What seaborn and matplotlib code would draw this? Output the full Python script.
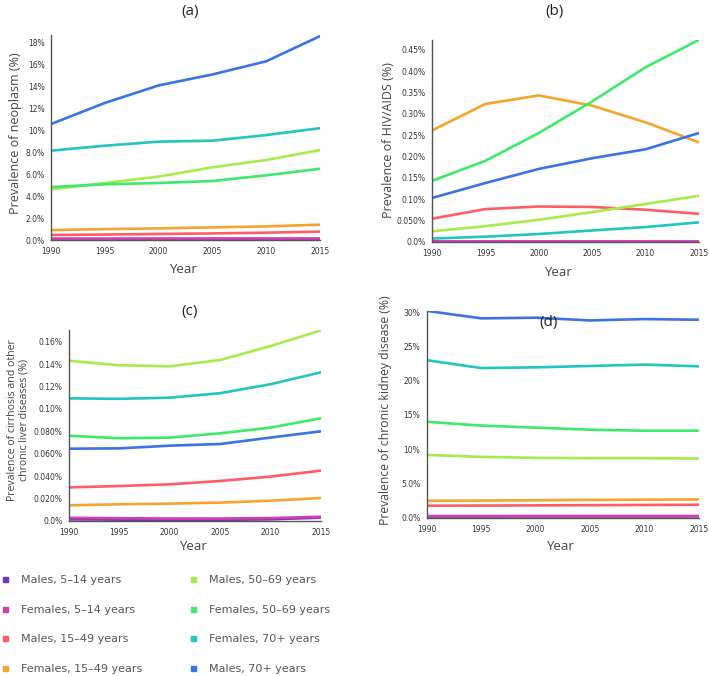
import matplotlib
matplotlib.use("Agg")
import matplotlib.pyplot as plt
from matplotlib.lines import Line2D
import numpy as np
import pandas as pd
import seaborn as sns

# 数据
years = [1990, 1995, 2000, 2005, 2010, 2015]
groups = ["Males, 5\u201314 years", "Females, 5\u201314 years",
          "Males, 15\u201349 years", "Females, 15\u201349 years",
          "Males, 50\u201369 years", "Females, 50\u201369 years",
          "Females, 70+ years", "Males, 70+ years"]
colors = ["#7035bd", "#d43fae", "#ff5c66", "#f5a42c",
          "#a6ec4c", "#3eea6c", "#22c6be", "#3b72e4"]

# (a) neoplasm
neoplasm = {
    groups[0]: [0.09, 0.09, 0.10, 0.10, 0.10, 0.10],
    groups[1]: [0.12, 0.12, 0.12, 0.13, 0.13, 0.13],
    groups[2]: [0.46, 0.50, 0.55, 0.60, 0.67, 0.76],
    groups[3]: [0.91, 0.99, 1.06, 1.15, 1.24, 1.40],
    groups[4]: [4.62, 5.20, 5.78, 6.63, 7.30, 8.20],
    groups[5]: [4.83, 5.08, 5.20, 5.38, 5.90, 6.50],
    groups[6]: [8.15, 8.60, 8.97, 9.06, 9.57, 10.20],
    groups[7]: [10.58, 12.50, 14.10, 15.10, 16.30, 18.60],
}
# (b) HIV/AIDS
hiv = {
    groups[0]: [0.0008, 0.0009, 0.0009, 0.0008, 0.0007, 0.0006],
    groups[1]: [0.0012, 0.0013, 0.0013, 0.0012, 0.0011, 0.0010],
    groups[2]: [0.0545, 0.0770, 0.0830, 0.0820, 0.0755, 0.0660],
    groups[3]: [0.261, 0.323, 0.343, 0.319, 0.280, 0.233],
    groups[4]: [0.025, 0.037, 0.052, 0.070, 0.089, 0.108],
    groups[5]: [0.143, 0.190, 0.255, 0.329, 0.409, 0.473],
    groups[6]: [0.008, 0.0125, 0.0187, 0.027, 0.035, 0.046],
    groups[7]: [0.103, 0.138, 0.171, 0.196, 0.217, 0.255],
}
# (c) cirrhosis and other chronic liver diseases
liver = {
    groups[0]: [0.0015, 0.0012, 0.0010, 0.0010, 0.0015, 0.0030],
    groups[1]: [0.0028, 0.0025, 0.0022, 0.0022, 0.0026, 0.0038],
    groups[2]: [0.0300, 0.0312, 0.0327, 0.0357, 0.0396, 0.0449],
    groups[3]: [0.0140, 0.0149, 0.0155, 0.0164, 0.0181, 0.0205],
    groups[4]: [0.1430, 0.1389, 0.1380, 0.1436, 0.1560, 0.1700],
    groups[5]: [0.0761, 0.0738, 0.0744, 0.0782, 0.0833, 0.0916],
    groups[6]: [0.1094, 0.1090, 0.1100, 0.1140, 0.1220, 0.1326],
    groups[7]: [0.0645, 0.0648, 0.0672, 0.0687, 0.0744, 0.0800],
}
# (d) chronic kidney disease
kidney = {
    groups[0]: [0.18, 0.18, 0.19, 0.19, 0.19, 0.19],
    groups[1]: [0.24, 0.24, 0.25, 0.25, 0.25, 0.25],
    groups[2]: [1.75, 1.77, 1.80, 1.83, 1.86, 1.89],
    groups[3]: [2.48, 2.50, 2.55, 2.60, 2.63, 2.67],
    groups[4]: [9.17, 8.88, 8.74, 8.69, 8.69, 8.64],
    groups[5]: [14.0, 13.45, 13.15, 12.85, 12.70, 12.70],
    groups[6]: [23.0, 21.85, 21.95, 22.15, 22.35, 22.10],
    groups[7]: [30.2, 29.1, 29.2, 28.8, 29.0, 28.9],
}

panels = [
    ("(a)", neoplasm, "Prevalence of neoplasm (%)", 18.7, 2, 9),
    ("(b)", hiv, "Prevalence of HIV/AIDS (%)", 0.4727, 0.05, 9),
    ("(c)", liver, "Prevalence of cirrhosis and other\nchronic liver diseases (%)", 0.1704, 0.02, 7.6),
    ("(d)", kidney, "Prevalence of chronic kidney disease (%)", 30.25, 5, 8.8),
]

rows = []
for name, table, _, _, _, _ in panels:
    for g in groups:
        for yr, v in zip(years, table[g]):
            rows.append({"panel": name, "group": g, "Year": yr, "value": v})
df = pd.DataFrame(rows)

W, H = 709, 676

def fx(px):
    return px / W

def fy(py):
    return 1 - py / H

# 像素位置 (left, right, bottom, top)
boxes = {
    "(a)": (51, 320, 240, 35),
    "(b)": (432, 699, 242, 40),
    "(c)": (69, 320.7, 521, 330),
    "(d)": (426.7, 699, 517.7, 310.5),
}
title_pos = {"(a)": (190, 12), "(b)": (555, 12), "(c)": (190, 312), "(d)": (549, 323)}
ylab_pos = {"(a)": (16, 133), "(b)": (388, 140), "(c)": (18, 420), "(d)": (385, 410)}
xlab_pos = {"(a)": (183, 270), "(b)": (558, 272), "(c)": (193, 547), "(d)": (560, 547)}


def pct_fmt(v, pos):
    if abs(v) < 1e-12:
        return "0.0%"
    s = f"{v:#.2g}"
    if s.endswith("."):
        s = s[:-1]
    return s + "%"


sns.set_style("white")
plt.rcParams["font.family"] = ["DejaVu Sans"]

fig = plt.figure(figsize=(W / 100, H / 100), dpi=100)

for name, table, ylabel, ytop, step, yfs in panels:
    l, r, b, t = boxes[name]
    ax = fig.add_axes([fx(l), fy(b), fx(r) - fx(l), fy(t) - fy(b)])
    sns.lineplot(data=df[df.panel == name], x="Year", y="value", hue="group",
                 hue_order=groups, palette=colors, linewidth=1.9,
                 legend=False, ax=ax)
    ax.set_xlim(1990, 2015)
    ax.set_ylim(0, ytop)
    ax.set_xticks(years)
    ax.set_yticks(np.arange(0, ytop + 1e-9, step))
    ax.yaxis.set_major_formatter(matplotlib.ticker.FuncFormatter(pct_fmt))
    ax.tick_params(axis="both", labelsize=5.5, colors="#333333", length=3,
                   width=0.8, pad=1.5, direction="out")
    ax.tick_params(axis="x", pad=2)
    for s in ["top", "right"]:
        ax.spines[s].set_visible(False)
    for s in ["left", "bottom"]:
        ax.spines[s].set_color("#555555")
        ax.spines[s].set_linewidth(1.0)
    ax.set_xlabel("Year", fontsize=9.5, color="#444444", family="Open Sans")
    ax.set_ylabel(ylabel, fontsize=yfs, color="#444444", family="Open Sans",
                  linespacing=1.05)
    ax.xaxis.set_label_coords(fx(xlab_pos[name][0]), fy(xlab_pos[name][1]),
                              transform=fig.transFigure)
    ax.xaxis.label.set_va("center")
    ax.yaxis.set_label_coords(fx(ylab_pos[name][0]), fy(ylab_pos[name][1]),
                              transform=fig.transFigure)
    ax.yaxis.label.set_va("center")
    fig.text(fx(title_pos[name][0]), fy(title_pos[name][1]), name,
             ha="center", va="center", fontsize=11, color="#222222",
             family="Open Sans")

# 图例
handles = [Line2D([], [], marker="s", linestyle="none", markersize=3.6,
                  color=c) for c in colors]
for col, x0 in [(0, 1), (1, 189)]:
    fig.legend(handles[col * 4:col * 4 + 4], groups[col * 4:col * 4 + 4],
               loc="upper left", bbox_to_anchor=(fx(x0), fy(575)),
               frameon=False, fontsize=8, labelcolor="#555555",
               handlelength=0.8, handletextpad=1.0, labelspacing=1.77,
               borderpad=0, borderaxespad=0)

fig.savefig("out.png", dpi=100)
